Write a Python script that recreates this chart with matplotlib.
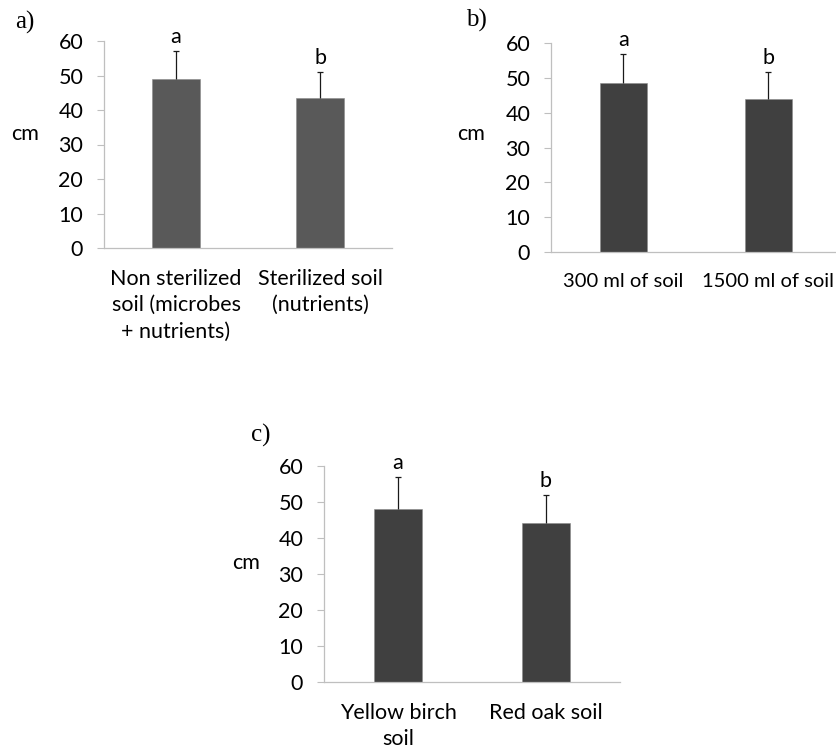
import matplotlib
matplotlib.use("Agg")
import matplotlib.pyplot as plt

# Mean height (cm) with upper standard-deviation bars
cats_a = ["Non sterilized\nsoil (microbes\n+ nutrients)", "Sterilized soil\n(nutrients)"]
vals_a = [49.0, 43.5]
errs_a = [8.1, 7.5]
sig_a = ["a", "b"]

cats_b = ["300 ml of soil", "1500 ml of soil"]
vals_b = [48.5, 43.9]
errs_b = [8.3, 7.8]
sig_b = ["a", "b"]

cats_c = ["Yellow birch\nsoil", "Red oak soil"]
vals_c = [48.1, 44.2]
errs_c = [8.8, 7.7]
sig_c = ["a", "b"]

yticks = [0, 10, 20, 30, 40, 50, 60]

W, H = 837, 752
fig = plt.figure(figsize=(W / 100, H / 100), dpi=100)

SANS = ["Lato", "DejaVu Sans"]
SERIF = ["Liberation Serif", "DejaVu Serif"]
AXIS_GREY = "#bfbfbf"
FS = 15.5


def px_box(x0, x1, ytop, ybot):
    return [x0 / W, 1 - ybot / H, (x1 - x0) / W, (ybot - ytop) / H]


def panel(box, cats, vals, errs, sig, color, letter, letter_xy, cm_xy,
          label_pad, label_fs=FS):
    ax = fig.add_axes(box)
    x = list(range(len(cats)))
    ax.bar(x, vals, width=0.33, color=color, edgecolor="#8a8a8a", linewidth=0.4, zorder=2)
    eb = ax.errorbar(x, vals, yerr=[[0] * len(errs), errs], fmt="none",
                     ecolor="#1a1a1a", elinewidth=0.9, capsize=2.5, capthick=0.9, zorder=3)
    # keep only the upper caps
    eb[1][0].set_visible(False)
    for xi, v, e, s in zip(x, vals, errs, sig):
        ax.annotate(s, (xi, v + e), xytext=(0, 3), textcoords="offset points",
                    ha="center", va="bottom", fontsize=FS, family=SANS, color="black")
    ax.set_xlim(-0.5, len(cats) - 0.5)
    ax.set_ylim(0, 60)
    ax.set_yticks(yticks)
    ax.set_xticks(x)
    ax.set_xticklabels(cats, fontsize=label_fs, family=SANS, linespacing=1.4)
    for t in ax.get_yticklabels():
        t.set_fontsize(FS)
        t.set_family(SANS)
    ax.tick_params(axis="x", length=0, pad=label_pad)
    ax.tick_params(axis="y", direction="out", length=5, width=0.8, color=AXIS_GREY, pad=10)
    for side in ("top", "right"):
        ax.spines[side].set_visible(False)
    for side in ("left", "bottom"):
        ax.spines[side].set_color(AXIS_GREY)
        ax.spines[side].set_linewidth(0.9)
    ax.set_facecolor("none")
    fig.text(letter_xy[0] / W, 1 - letter_xy[1] / H, letter, family=SERIF, fontsize=18,
             ha="left", va="center")
    fig.text(cm_xy[0] / W, 1 - cm_xy[1] / H, "cm", family=SANS, fontsize=FS,
             ha="left", va="center")
    return ax


panel(px_box(104, 392, 41, 248), cats_a, vals_a, errs_a, sig_a, "#595959",
      "a)", (15, 22), (11, 134), 15)
panel(px_box(551, 841, 43, 252), cats_b, vals_b, errs_b, sig_b, "#404040",
      "b)", (466, 20), (457, 134), 15, label_fs=14.5)
panel(px_box(324, 620, 466, 682), cats_c, vals_c, errs_c, sig_c, "#404040",
      "c)", (251, 435), (232, 563), 15)

fig.savefig("out.png", dpi=100)
